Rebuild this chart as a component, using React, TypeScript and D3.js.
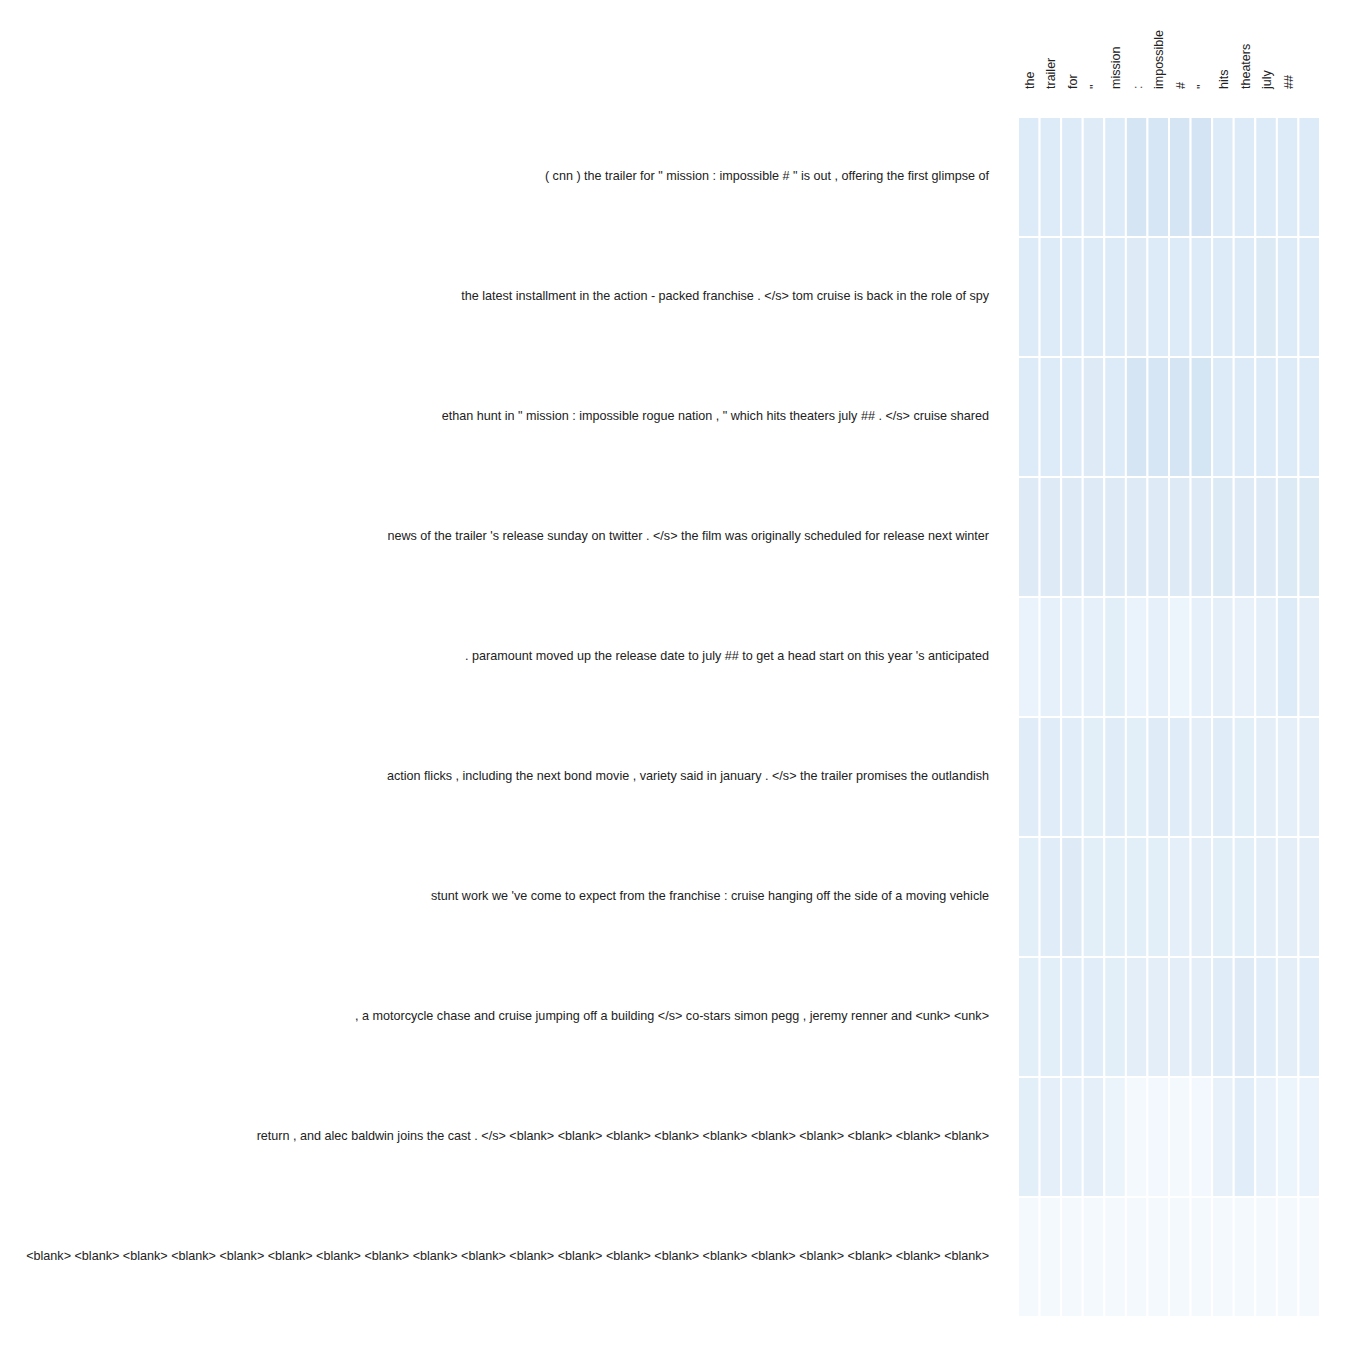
import React from 'react';
import * as d3 from 'd3';

// column tokens (summary side), last column has no label
const colTokens = ['the', 'trailer', 'for', '"', 'mission', ':', 'impossible', '#', '"', 'hits', 'theaters', 'july', '##', ''];

// row chunks (source side)
const rowTexts = [
  '( cnn ) the trailer for " mission : impossible # " is out , offering the first glimpse of',
  'the latest installment in the action - packed franchise . </s> tom cruise is back in the role of spy',
  'ethan hunt in " mission : impossible rogue nation , " which hits theaters july ## . </s> cruise shared',
  "news of the trailer 's release sunday on twitter . </s> the film was originally scheduled for release next winter",
  ". paramount moved up the release date to july ## to get a head start on this year 's anticipated",
  'action flicks , including the next bond movie , variety said in january . </s> the trailer promises the outlandish',
  "stunt work we 've come to expect from the franchise : cruise hanging off the side of a moving vehicle",
  ', a motorcycle chase and cruise jumping off a building </s> co-stars simon pegg , jeremy renner and <unk> <unk>',
  'return , and alec baldwin joins the cast . </s> <blank> <blank> <blank> <blank> <blank> <blank> <blank> <blank> <blank> <blank>',
  '<blank> <blank> <blank> <blank> <blank> <blank> <blank> <blank> <blank> <blank> <blank> <blank> <blank> <blank> <blank> <blank> <blank> <blank> <blank> <blank>',
];

// attention weights, one array per row chunk
const weights: number[][] = [
  [0.13, 0.13, 0.13, 0.12, 0.13, 0.172, 0.167, 0.172, 0.177, 0.13, 0.13, 0.13, 0.13, 0.13],
  [0.13, 0.13, 0.13, 0.13, 0.13, 0.125, 0.13, 0.13, 0.13, 0.13, 0.13, 0.135, 0.13, 0.13],
  [0.13, 0.13, 0.13, 0.125, 0.13, 0.17, 0.165, 0.17, 0.175, 0.13, 0.13, 0.13, 0.13, 0.13],
  [0.125, 0.125, 0.125, 0.125, 0.125, 0.125, 0.125, 0.125, 0.125, 0.135, 0.125, 0.125, 0.135, 0.135],
  [0.065, 0.085, 0.085, 0.085, 0.105, 0.065, 0.085, 0.05, 0.085, 0.09, 0.075, 0.095, 0.13, 0.1],
  [0.115, 0.115, 0.11, 0.105, 0.115, 0.105, 0.12, 0.115, 0.1, 0.115, 0.105, 0.1, 0.09, 0.1],
  [0.105, 0.115, 0.125, 0.105, 0.105, 0.105, 0.105, 0.09, 0.1, 0.105, 0.105, 0.1, 0.1, 0.1],
  [0.105, 0.105, 0.11, 0.11, 0.105, 0.1, 0.1, 0.1, 0.1, 0.115, 0.125, 0.11, 0.1, 0.11],
  [0.105, 0.09, 0.085, 0.095, 0.055, 0.015, 0.02, 0.015, 0.02, 0.075, 0.11, 0.07, 0.05, 0.065],
  [0.015, 0.015, 0.015, 0.015, 0.015, 0.015, 0.015, 0.015, 0.015, 0.015, 0.015, 0.015, 0.015, 0.015],
];

const width = 1349;
const height = 1347;
const margin = { top: 117, right: 29, bottom: 30, left: 1018 };
const fontFamily = '"Liberation Sans", Arial, sans-serif';

export default function App() {
  const x = d3
    .scaleBand<number>()
    .domain(d3.range(colTokens.length))
    .range([margin.left, width - margin.right]);

  const y = d3
    .scaleBand<number>()
    .domain(d3.range(rowTexts.length))
    .range([margin.top, height - margin.bottom]);

  const color = d3.scaleSequential(d3.interpolateBlues).domain([0, 1]);

  return (
    <svg
      width={width}
      height={height}
      style={{ position: 'absolute', left: 0, top: 0, background: '#fff' }}
    >
      {/* cells */}
      <g>
        {weights.map((row, ri) =>
          row.map((v, ci) => (
            <rect
              key={`${ri}-${ci}`}
              x={x(ci)}
              y={y(ri)}
              width={x.bandwidth()}
              height={y.bandwidth()}
              fill={color(v)}
              stroke="#fff"
              strokeWidth={2}
            />
          ))
        )}
      </g>

      {/* column labels */}
      <g fontFamily={fontFamily} fontSize={12.5} fill="#222">
        {colTokens.map((t, ci) => (
          <text
            key={ci}
            transform={`translate(${x(ci)! + x.bandwidth() / 2 + 1}, 89) rotate(-90)`}
            textAnchor="start"
            dominantBaseline="central"
          >
            {t}
          </text>
        ))}
      </g>

      {/* row labels */}
      <g fontFamily={fontFamily} fontSize={12.6} fill="#222">
        {rowTexts.map((t, ri) => (
          <text
            key={ri}
            x={989}
            y={y(ri)! + y.bandwidth() / 2 - 1}
            textAnchor="end"
            dominantBaseline="central"
          >
            {t}
          </text>
        ))}
      </g>
    </svg>
  );
}
